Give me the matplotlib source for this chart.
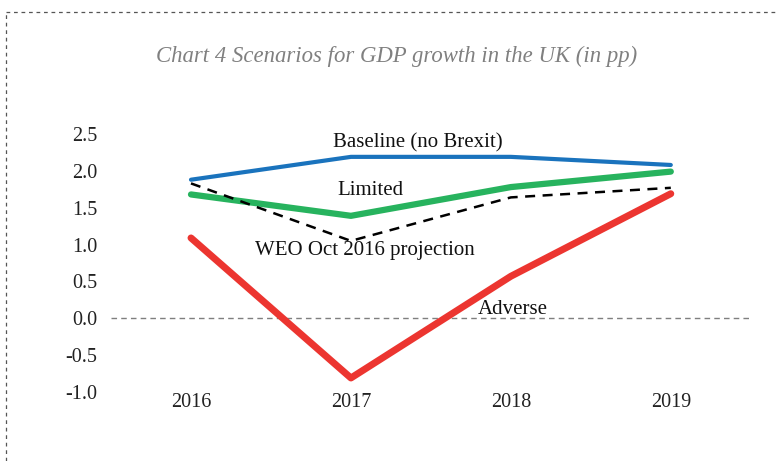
import matplotlib
matplotlib.use("Agg")
import matplotlib.pyplot as plt
from matplotlib.lines import Line2D
from matplotlib.ticker import FuncFormatter

# Chart data
years = ["2016", "2017", "2018", "2019"]
baseline = [1.88, 2.19, 2.19, 2.08]
limited = [1.68, 1.39, 1.78, 1.99]
weo_oct_2016 = [1.83, 1.05, 1.64, 1.77]
adverse = [1.09, -0.81, 0.57, 1.69]
y_ticks = [-1.0, -0.5, 0.0, 0.5, 1.0, 1.5, 2.0, 2.5]

plt.rcParams['font.family'] = ['Liberation Serif', 'DejaVu Serif']

fig = plt.figure(figsize=(7.78, 4.61), dpi=100)
ax = fig.add_axes([0.1427, 0.1497, 0.8223, 0.5596])

x = list(range(len(years)))

# zero line
ax.axhline(0, color='#7f7f7f', lw=1.0, ls=(0, (4, 3)), zorder=1)

ax.plot(x, baseline, color='#1a73bd', lw=3.0, solid_capstyle='round', zorder=3)
ax.plot(x, limited, color='#27b35e', lw=4.5, solid_capstyle='round', zorder=3)
ax.plot(x, weo_oct_2016, color='black', lw=1.8, ls=(0, (4, 3)), zorder=4)
ax.plot(x, adverse, color='#ec3530', lw=5.0, solid_capstyle='round', zorder=3)

# series labels
lbl = dict(ha='center', va='center', fontsize=15, color='#111111')
ax.text(1.42, 2.38, "Baseline (no Brexit)", **lbl)
ax.text(1.12, 1.74, "Limited", **lbl)
ax.text(1.09, 0.92, "WEO Oct 2016 projection", **lbl)
ax.text(2.01, 0.12, "Adverse", **lbl)

ax.set_xlim(-0.5, 3.5)
ax.set_ylim(-1.0, 2.5)
ax.set_xticks(x)
ax.set_xticklabels(years)
ax.set_yticks(y_ticks)
ax.yaxis.set_major_formatter(FuncFormatter(lambda v, p: f"{v:.1f}".replace('\u2212', '-')))
ax.tick_params(axis='both', length=0, labelsize=14.5, colors='#222222')
ax.tick_params(axis='y', pad=10)
ax.tick_params(axis='x', pad=1)
for s in ax.spines.values():
    s.set_visible(False)

fig.text(0.51, 1 - 56 / 461, "Chart 4 Scenarios for GDP growth in the UK (in pp)",
         ha='center', va='center', fontsize=16.4, style='italic', color='#808080')

# dashed frame around the chart
top = 1 - 12 / 461
left = 6 / 778
fig.add_artist(Line2D([left, 1.0], [top, top], transform=fig.transFigure,
                      color='#555555', lw=0.9, ls=(0, (3, 3))))
fig.add_artist(Line2D([left, left], [0.0, top], transform=fig.transFigure,
                      color='#555555', lw=0.9, ls=(0, (3, 3))))

fig.savefig("out.png", dpi=100)
